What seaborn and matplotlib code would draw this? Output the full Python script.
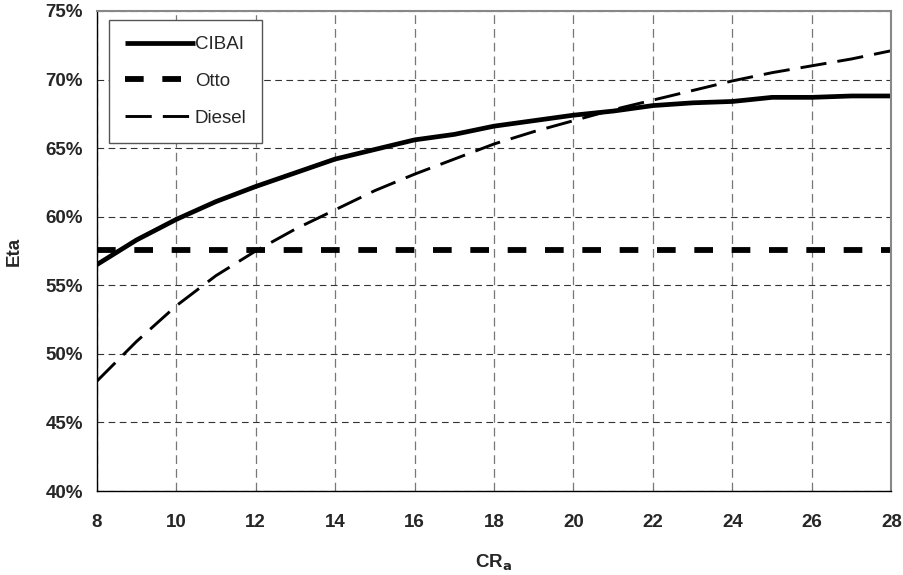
import pandas as pd
import seaborn as sns
import matplotlib.pyplot as plt
import numpy as np
from matplotlib.ticker import FuncFormatter

sns.set_style('white')
plt.rcParams['font.family'] = ['Liberation Sans', 'DejaVu Sans']
plt.rcParams['font.size'] = 13.5

# compression ratio values
cr = [8, 9, 10, 11, 12, 13, 14, 15, 16, 17, 18, 19, 20, 21, 22, 23, 24, 25, 26, 27, 28]
cibai = [56.5, 58.3, 59.8, 61.1, 62.2, 63.2, 64.2, 64.9, 65.6, 66.0, 66.6, 67.0, 67.4, 67.7,
         68.1, 68.3, 68.4, 68.7, 68.7, 68.8, 68.8]
otto = [57.6] * len(cr)
diesel = [48.0, 50.9, 53.5, 55.7, 57.5, 59.1, 60.5, 61.9, 63.1, 64.2, 65.3, 66.2, 67.0, 67.8,
          68.5, 69.2, 69.9, 70.5, 71.0, 71.5, 72.1]

series = ['CIBAI', 'Otto', 'Diesel']
df = pd.DataFrame({
    'CR': cr * 3,
    'Eta': cibai + otto + diesel,
    'Cycle': sum([[s] * len(cr) for s in series], []),
})

fig = plt.figure(figsize=(9.04, 5.75), dpi=100)
ax = fig.add_axes([0.107, 0.146, 0.879, 0.835])

sns.lineplot(data=df, x='CR', y='Eta', hue='Cycle', style='Cycle',
             palette={'CIBAI': 'black', 'Otto': 'black', 'Diesel': 'black'},
             dashes={'CIBAI': '', 'Otto': (3.2, 3.2), 'Diesel': (9, 3.8)},
             size='Cycle', sizes={'CIBAI': 3.4, 'Otto': 4.2, 'Diesel': 2.1},
             ax=ax, legend='full')
for ln in ax.get_lines():
    ln.set_dash_capstyle('butt')
    ln.set_solid_capstyle('butt')

ax.set_xlim(8, 28)
ax.set_ylim(40, 75)
ax.set_xticks(np.arange(8, 29, 2))
ax.set_yticks(np.arange(40, 76, 5))
ax.yaxis.set_major_formatter(FuncFormatter(lambda v, p: '%d%%' % v))
for lab in ax.get_xticklabels() + ax.get_yticklabels():
    lab.set_fontweight('bold')
ax.tick_params(axis='x', direction='inout', length=7, width=0.8, pad=13)
ax.tick_params(axis='y', direction='out', length=5, width=0.8, pad=5)

# horizontal grid darker, vertical grid grey
ax.yaxis.grid(True, color='#333333', linestyle=(0, (6, 4)), linewidth=0.8)
ax.xaxis.grid(True, color='#777777', linestyle=(0, (7, 4)), linewidth=0.9)
ax.set_axisbelow(True)

for s in ['left', 'bottom']:
    ax.spines[s].set_color('black')
    ax.spines[s].set_linewidth(1.0)
for s in ['top', 'right']:
    ax.spines[s].set_color('#888888')
    ax.spines[s].set_linewidth(1.5)

ax.set_xlabel('CR$_\\mathbf{a}$', fontweight='bold', labelpad=16)
ax.set_ylabel('Eta', fontweight='bold', labelpad=16)

handles, labels = ax.get_legend_handles_labels()
leg = ax.legend(handles, labels, loc='upper left', bbox_to_anchor=(0.016, 0.981),
                borderaxespad=0, frameon=True, fancybox=False, edgecolor='#555555',
                framealpha=1, handlelength=3.7, labelspacing=1.05, handletextpad=0.0,
                borderpad=0.85, fontsize=13.5)
leg.get_frame().set_linewidth(1.0)

plt.savefig('out.png', dpi=100)
